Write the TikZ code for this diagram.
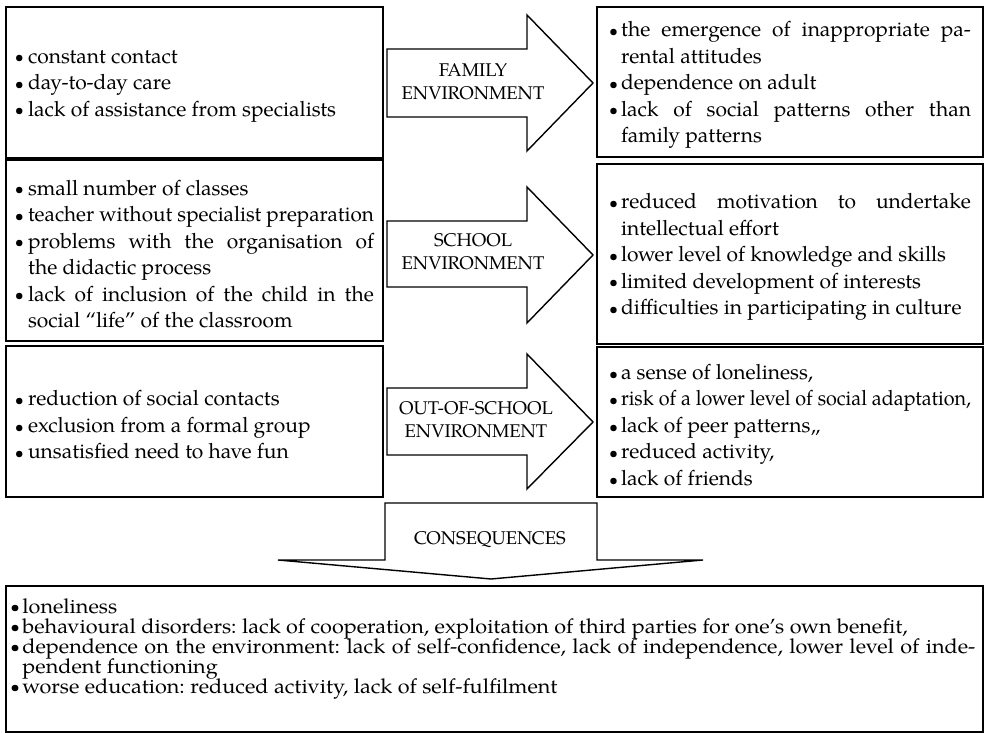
\documentclass[tikz,border=0pt]{standalone}
\usepackage{fontspec}
\setmainfont{TeX Gyre Pagella}
\newfontfamily\botfont[FakeStretch=1.06,Ligatures=TeX]{TeX Gyre Pagella}
\usepackage{graphicx}
\newlength\tw
\newlength\hangw
\newlength\fitw
\newsavebox\fitbox
\newcommand\Jl[1]{\sbox\fitbox{\spaceskip=0pt\xspaceskip=0pt #1}\setlength\fitw{\wd\fitbox}%
  \ifdim\fitw>\tw\pgfmathsetmacro\fitr{\tw/\fitw}\scalebox{\fitr}[1]{\usebox\fitbox}\else\makebox[\tw][s]{\spaceskip=0pt\xspaceskip=0pt #1}\fi}
\newcommand\Rl[1]{\sbox\fitbox{\spaceskip=0pt\xspaceskip=0pt #1}\setlength\fitw{\wd\fitbox}%
  \ifdim\fitw>\tw\pgfmathsetmacro\fitr{\tw/\fitw}\scalebox{\fitr}[1]{\usebox\fitbox}\else\makebox[\tw][l]{\usebox\fitbox}\fi}
\newcommand\Bu{\makebox[\hangw][l]{\raisebox{0.2pt}{\fontsize{8}{5}\selectfont\textbullet}}}
\newcommand\Co{\hspace*{\hangw}}
\tikzset{
  frame/.style={draw, line width=0.9pt, inner sep=0pt},
  ltext/.style={inner sep=0pt, text width=179.5pt, align=left,
    font={\fontsize{10.5}{13.25}\selectfont\frenchspacing\setlength\tw{173pt}\setlength\hangw{6.5pt}}},
  rtext/.style={inner sep=0pt, text width=181pt, align=left,
    font={\fontsize{10.5}{13.25}\selectfont\frenchspacing\setlength\tw{175pt}\setlength\hangw{6pt}}},
  ctext/.style={inner sep=0pt, text width=482.5pt, align=left,
    font={\botfont\fontsize{10.2}{10}\selectfont\frenchspacing\setlength\lineskiplimit{-10pt}\setlength\tw{476.5pt}\setlength\hangw{6pt}}},
  arr/.style={draw, line width=0.7pt, fill=white, line join=miter},
  alab/.style={font=\fontsize{9.2}{11.5}\selectfont, align=center, inner sep=0pt},
}
\begin{document}
\begin{tikzpicture}[x=0.5pt, y=-0.5pt]
\useasboundingbox (0,0) rectangle (993,733);
% frames
\node[frame, minimum width=188.5pt, minimum height=75.5pt] (L1) at (194.5,82.5) {};
\node[frame, minimum width=188.5pt, minimum height=90.5pt] (L2) at (194.5,250.5) {};
\node[frame, minimum width=188.5pt, minimum height=75.5pt] (L3) at (194.5,421.5) {};
\node[frame, minimum width=193pt, minimum height=75pt] (R1) at (790,82) {};
\node[frame, minimum width=193pt, minimum height=90pt] (R2) at (790,254) {};
\node[frame, minimum width=193pt, minimum height=75pt] (R3) at (790,422) {};
\node[frame, minimum width=488.5pt, minimum height=73pt] (C) at (494.5,659) {};
% left texts
\node[ltext] (L1t) at (194.5,86) {%
\Bu\Rl{constant contact}\\
\Bu\Rl{day-to-day care}\\
\Bu\Rl{lack of assistance from specialists}};
\node[ltext] (L2t) at (194.5,254) {%
\Bu\Rl{small number of classes}\\
\Bu\Rl{teacher without specialist preparation}\\
\Bu\Jl{problems with the organisation of}\\
\Co\Rl{the didactic process}\\
\Bu\Jl{lack of inclusion of the child in the}\\
\Co\Rl{social ``life'' of the classroom}};
\node[ltext] (L3t) at (194.5,425) {%
\Bu\Rl{reduction of social contacts}\\
\Bu\Rl{exclusion from a formal group}\\
\Bu\Rl{unsatisfied need to have fun}};
% right texts
\node[rtext] (R1t) at (790,85) {%
\Bu\Jl{the emergence of inappropriate pa-}\\
\Co\Rl{rental attitudes}\\
\Bu\Rl{dependence on adult}\\
\Bu\Jl{lack of social patterns other than}\\
\Co\Rl{family patterns}};
\node[rtext] (R2t) at (790,257) {%
\Bu\Jl{reduced motivation to undertake}\\
\Co\Rl{intellectual effort}\\
\Bu\Rl{lower level of knowledge and skills}\\
\Bu\Rl{limited development of interests}\\
\Bu\Rl{difficulties in participating in culture}};
\node[rtext] (R3t) at (790,425) {%
\Bu\Rl{a sense of loneliness,}\\
\Bu\Rl{risk of a lower level of social adaptation,}\\
\Bu\Rl{lack of peer patterns,,}\\
\Bu\Rl{reduced activity,}\\
\Bu\Rl{lack of friends}};
% arrows
\draw[arr] (387,49) -- (527,49) -- (527,15) -- (593,83) -- (527,151) -- (527,117) -- (387,117) -- cycle;
\node[alab] (A1) at (473,82) {FAMILY\\ENVIRONMENT};
\draw[arr] (387,221) -- (527,221) -- (527,187) -- (593,255) -- (527,323) -- (527,287) -- (387,287) -- cycle;
\node[alab] (A2) at (473,252) {SCHOOL\\ENVIRONMENT};
\draw[arr] (387,388) -- (527,388) -- (527,354) -- (593,422) -- (527,489) -- (527,455) -- (387,455) -- cycle;
\node[alab] (A3) at (476,420) {OUT-OF-SCHOOL\\ENVIRONMENT};
% consequences
\draw[arr] (385,503) -- (597,503) -- (597,560) -- (703,560) -- (491,579) -- (278,560) -- (385,560) -- cycle;
\node[alab] (A4) at (490,540) {CONSEQUENCES};
\node[ctext, anchor=north west] (Ct) at (10,598) {%
\Bu\Rl{loneliness}\\
\Bu\Rl{behavioural disorders: lack of cooperation, exploitation of third parties for one's own benefit,}\\
\Bu\Jl{dependence on the environment: lack of self-confidence, lack of independence, lower level of inde-}\\
\Co\Rl{pendent functioning}\\
\Bu\Rl{worse education: reduced activity, lack of self-fulfilment}};
\end{tikzpicture}
\end{document}
